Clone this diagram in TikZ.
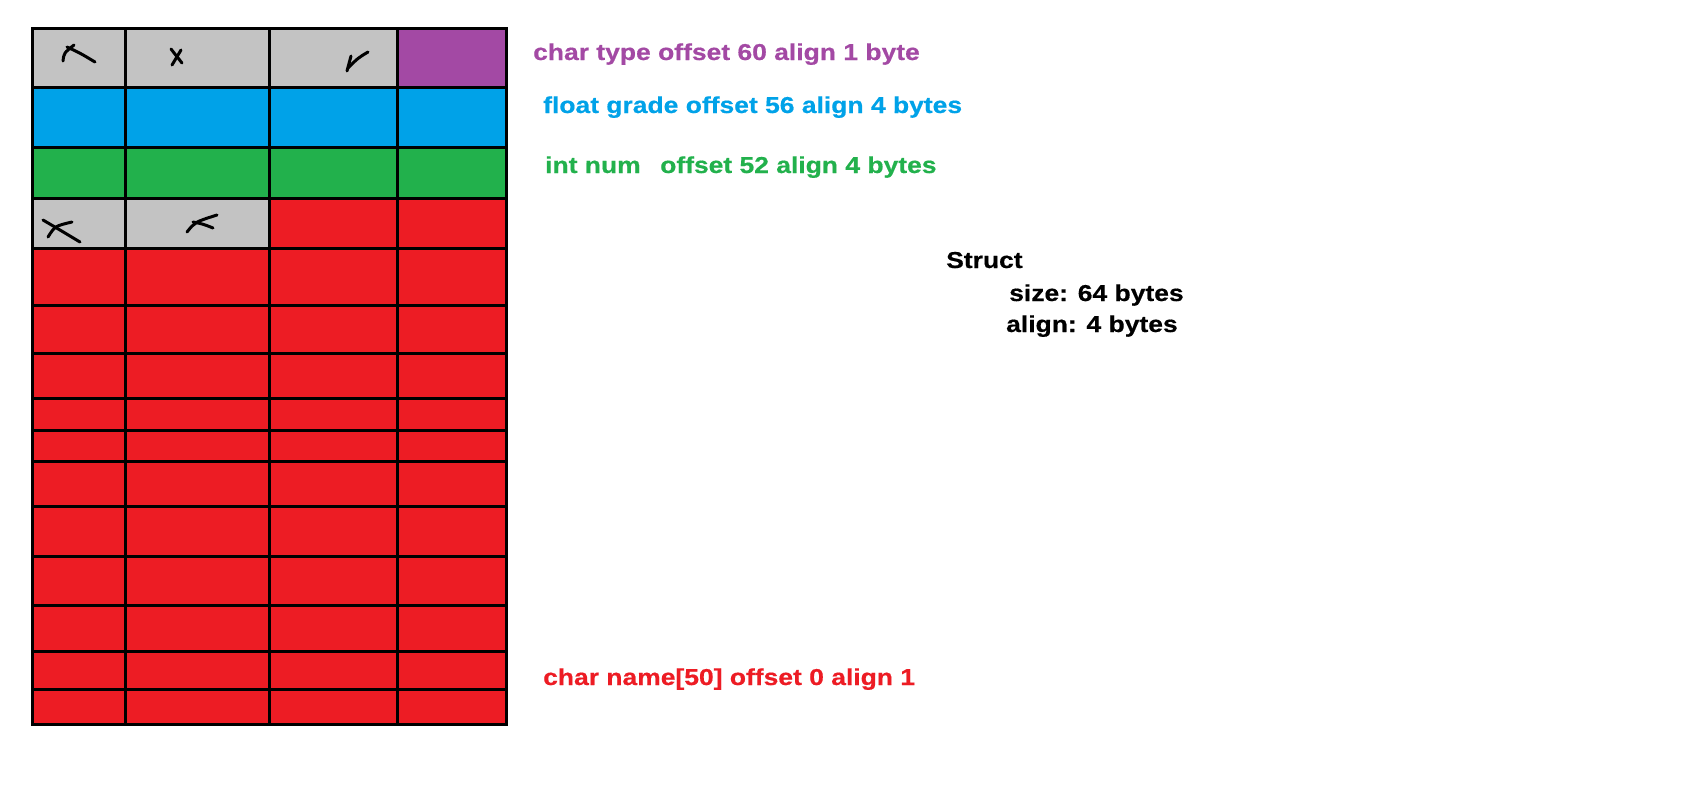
\documentclass[tikz,border=0pt]{standalone}
\usepackage{fontspec}
\newfontfamily\paintfont[FakeStretch=1.15, BoldFeatures={FakeBold=0.5}]{Liberation Sans}
\definecolor{pgray}{HTML}{C3C3C3}
\definecolor{ppurple}{HTML}{A349A4}
\definecolor{pblue}{HTML}{00A2E8}
\definecolor{pgreen}{HTML}{22B14C}
\definecolor{pred}{HTML}{ED1C24}
\begin{document}
\begin{tikzpicture}[x=1pt,y=-1pt,
  gridline/.style={line width=3pt, line cap=rect},
  pen/.style={line width=3pt, line cap=round, line join=round},
  lbl/.style={anchor=base west, inner sep=0pt, font=\paintfont\fontsize{23}{27}\selectfont\bfseries}]
\useasboundingbox[fill=white] (0,0) rectangle (1705,801);
% cell fills
\fill[pred] (32,198) rectangle (506,724);
\fill[pgray] (32,198) rectangle (269,248);
\fill[pgray] (32,28) rectangle (397,87);
\fill[ppurple] (397,28) rectangle (506,87);
\fill[pblue] (32,87) rectangle (506,147);
\fill[pgreen] (32,147) rectangle (506,198);
% grid lines
\foreach \y in {28,87,147,198,248,305,353,398,430,461,506,556,605,651,689,724}
  \draw[gridline] (32,\y) -- (506,\y);
\foreach \x in {32,125,269,397,506}
  \draw[gridline] (\x,28) -- (\x,724);
% hand-drawn crosses
\draw[pen] (63,61) .. controls (64,53) .. (74,45);
\draw[pen] (67,47) .. controls (80,53) .. (95,62);
\draw[pen] (171,49) -- (182,63);
\draw[pen] (181,50) -- (172,65);
\draw[pen] (351,56) -- (347,71);
\draw[pen] (368,52) .. controls (358,58) .. (348,68);
\draw[pen] (43,220) .. controls (60,230) .. (80,242);
\draw[pen] (72,222) .. controls (55,226) .. (48,237);
\draw[pen] (187,232) .. controls (195,222) .. (217,215);
\draw[pen] (193,222) .. controls (203,224) .. (213,228);
% labels
\node[lbl, text=ppurple] (ltype) at (533,60) {char type offset 60 align 1 byte};
\node[lbl, text=pblue] (lgrade) at (543,113) {float grade offset 56 align 4 bytes};
\node[lbl, text=pgreen] (lnum) at (545,173) {int num\hspace{19.5pt}offset 52 align 4 bytes};
\node[lbl, text=pred] (lname) at (543,685) {char name[50] offset 0 align 1};
\node[lbl] (lstruct) at (946,268) {Struct};
\node[lbl] (lsize) at (1009,301) {size: 64 bytes};
\node[lbl] (lalign) at (1006,332) {align: 4 bytes};
\end{tikzpicture}
\end{document}
